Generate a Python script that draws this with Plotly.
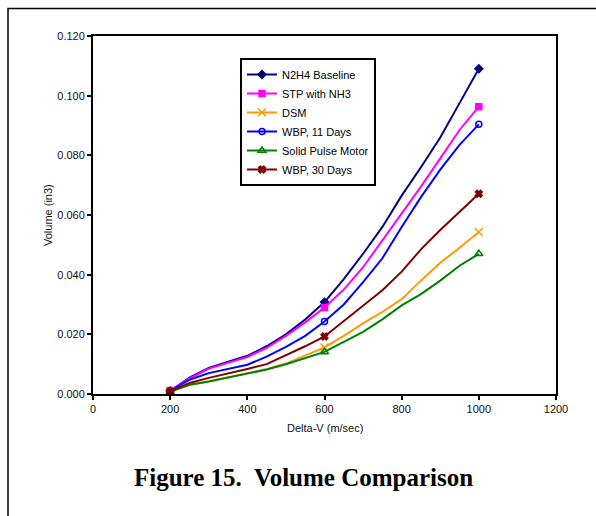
import plotly.graph_objects as go

delta_v = [200, 250, 300, 350, 400, 450, 500, 550, 600, 650, 700, 750, 800, 850, 900, 950, 1000]

n2h4 = [0.0010, 0.0055, 0.0087, 0.0107, 0.0128, 0.0160, 0.0200, 0.0250, 0.0308, 0.0385, 0.0470,
        0.0560, 0.0665, 0.0760, 0.0860, 0.0975, 0.1090]
stp = [0.0012, 0.0052, 0.0085, 0.0105, 0.0124, 0.0155, 0.0195, 0.0240, 0.0290, 0.0350, 0.0425,
       0.0515, 0.0605, 0.0695, 0.0790, 0.0885, 0.0963]
dsm = [0.0008, 0.0030, 0.0042, 0.0055, 0.0068, 0.0083, 0.0102, 0.0128, 0.0156, 0.0195, 0.0237,
       0.0275, 0.0318, 0.0380, 0.0440, 0.0490, 0.0543]
wbp11 = [0.0010, 0.0048, 0.0070, 0.0085, 0.0098, 0.0125, 0.0158, 0.0195, 0.0243, 0.0300, 0.0375,
         0.0455, 0.0560, 0.0660, 0.0752, 0.0835, 0.0904]
solid = [0.0008, 0.0031, 0.0042, 0.0055, 0.0068, 0.0082, 0.0100, 0.0120, 0.0141, 0.0175, 0.0208,
         0.0250, 0.0297, 0.0335, 0.0380, 0.0430, 0.0470]
wbp30 = [0.0008, 0.0037, 0.0054, 0.0068, 0.0084, 0.0100, 0.0130, 0.0160, 0.0193, 0.0245, 0.0295,
         0.0348, 0.0410, 0.0485, 0.0550, 0.0610, 0.0671]

marker_v = [200, 600, 1000]

series_names = ["N2H4 Baseline", "STP with NH3", "DSM", "WBP, 11 Days", "Solid Pulse Motor", "WBP, 30 Days"]
series_vals = [n2h4, stp, dsm, wbp11, solid, wbp30]
colors = ["#000080", "#FF00FF", "#FF9900", "#0000FF", "#008000", "#800000"]
symbols = ["diamond", "square", "x-thin-open", "circle-open", "triangle-up-open", "x"]
msizes = [6, 6, 8, 6, 7, 6]

FONT = "Arial, Liberation Sans, sans-serif"

fig = go.Figure()
for name, vals, c, sym, ms in zip(series_names, series_vals, colors, symbols, msizes):
    mvals = [vals[delta_v.index(v)] for v in marker_v]
    # line
    fig.add_trace(go.Scatter(x=delta_v, y=vals, mode="lines", line=dict(color=c, width=2),
                             legendgroup=name, showlegend=False, hoverinfo="skip"))
    # markers
    fig.add_trace(go.Scatter(x=marker_v, y=mvals, mode="markers",
                             marker=dict(symbol=sym, size=ms, color=c, line=dict(color=c, width=1.5)),
                             legendgroup=name, showlegend=False, name=name))
    # legend entry
    fig.add_trace(go.Scatter(x=[None], y=[None], mode="lines+markers", name=name,
                             line=dict(color=c, width=2),
                             marker=dict(symbol=sym, size=ms, color=c, line=dict(color=c, width=1.5)),
                             legendgroup=name, showlegend=True))

L, R, T, B = 93, 40, 36, 122
PW, PH = 596 - L - R, 516 - T - B

def px(xp):
    return (xp - L) / PW

def py(yp):
    return (516 - B - yp) / PH

fig.update_layout(
    width=596, height=516,
    margin=dict(l=L, r=R, t=T, b=B),
    paper_bgcolor="white", plot_bgcolor="white",
    font=dict(family=FONT, size=11, color="#000000"),
    showlegend=True,
    legend=dict(x=px(240), y=py(58), xanchor="left", yanchor="top",
                bgcolor="white", bordercolor="black", borderwidth=2,
                font=dict(family=FONT, size=11, color="#000000"),
                itemwidth=30, tracegroupgap=0),
    xaxis=dict(range=[0, 1200], dtick=200, tick0=0, showgrid=False, zeroline=False,
               showline=True, linecolor="black", linewidth=2, mirror=True,
               ticks="outside", ticklen=4, tickwidth=1.5, tickcolor="black",
               tickfont=dict(family=FONT, size=11, color="#111111")),
    yaxis=dict(range=[0, 0.12], dtick=0.02, tick0=0, tickformat=".3f", showgrid=False, zeroline=False,
               showline=True, linecolor="black", linewidth=2, mirror=True,
               ticks="outside", ticklen=4, tickwidth=1.5, tickcolor="black",
               tickfont=dict(family=FONT, size=11, color="#111111")),
    shapes=[dict(type="rect", xref="paper", yref="paper",
                 x0=px(8), x1=px(640), y0=py(560), y1=py(8.5),
                 line=dict(color="black", width=1.5), layer="below")],
    annotations=[
        dict(text="Delta-V (m/sec)", xref="paper", yref="paper", x=0.5, y=py(428),
             xanchor="center", yanchor="middle", showarrow=False,
             font=dict(family=FONT, size=11, color="#111111")),
        dict(text="Volume (in3)", xref="paper", yref="paper", x=px(48), y=0.5,
             xanchor="center", yanchor="middle", showarrow=False, textangle=-90,
             font=dict(family=FONT, size=11, color="#111111")),
        dict(text="Figure 15.\u00a0 Volume Comparison", xref="paper", yref="paper", x=px(303), y=py(477),
             xanchor="center", yanchor="middle", showarrow=False,
             font=dict(family="Times New Roman, Liberation Serif, serif", size=25, color="#000000",
                       weight="bold")),
    ],
)

fig.write_html("out.html")
